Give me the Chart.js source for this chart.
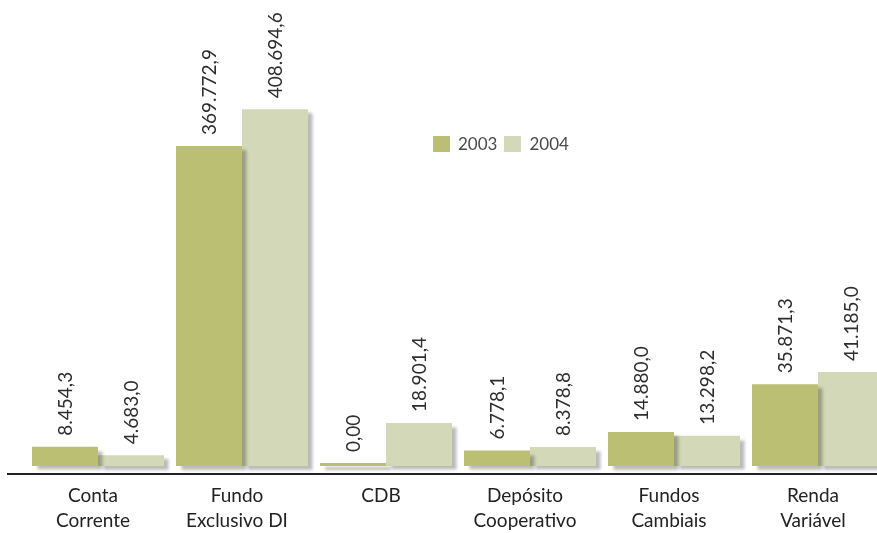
<!DOCTYPE html>
<html>
<head>
<meta charset="utf-8">
<script src="https://cdn.jsdelivr.net/npm/chart.js@4"></script>
<style>
    html, body { margin: 0; padding: 0; background: #fff; overflow: hidden; width: 877px; height: 533px; }
    #wrap { position: relative; width: 900px; height: 533px; overflow: hidden; }
    #legend { position: absolute; left: 433px; top: 133px; font-family: Lato, sans-serif; font-size: 17px; color: #4a4a4a; display: flex; align-items: center; }
    #legend span.box { display: inline-block; width: 17px; height: 16px; margin-right: 8px; }
    #legend span.txt { margin-right: 7px; }
</style>
</head>
<body>
<div id="wrap">
    <canvas id="chart" width="900" height="553"></canvas>
    <div id="legend">
        <span class="box" style="background:#bbbf74"></span><span class="txt">2003</span>
        <span class="box" style="background:#d3d9b8"></span><span class="txt">2004</span>
    </div>
</div>
<script>
const categories = [
    ['Conta', 'Corrente'],
    ['Fundo', 'Exclusivo DI'],
    ['CDB'],
    ['Depósito', 'Cooperativo'],
    ['Fundos', 'Cambiais'],
    ['Renda', 'Variável']
];
const values2003 = [8454.3, 369772.9, 0, 6778.1, 14880.0, 35871.3];
const values2004 = [4683.0, 408694.6, 18901.4, 8378.8, 13298.2, 41185.0];

// the original axis is not linear: small values are stretched, the two big ones squeezed
class BrokenScale extends Chart.LinearScale {
    getPixelForValue(value) {
        const pts = this.options.breaks;
        let frac = pts[pts.length - 1][1];
        for (let i = 1; i < pts.length; i++) {
            if (value <= pts[i][0]) {
                const a = pts[i - 1], b = pts[i];
                frac = a[1] + (value - a[0]) / (b[0] - a[0]) * (b[1] - a[1]);
                break;
            }
        }
        return this.getPixelForDecimal(frac);
    }
}
BrokenScale.id = 'broken';
BrokenScale.defaults = Chart.LinearScale.defaults;
Chart.register(BrokenScale);

function fmt(v) {
    if (v === 0) return '0,00';
    const parts = v.toFixed(1).split('.');
    return parts[0].replace(/\B(?=(\d{3})+(?!\d))/g, '.') + ',' + parts[1];
}

const shadowPlugin = {
    id: 'barShadow',
    beforeDatasetsDraw(chart) {
        const c = chart.ctx;
        c.save();
        c.shadowColor = 'rgba(0,0,0,0.27)';
        c.shadowOffsetX = 5;
        c.shadowOffsetY = 4;
        c.shadowBlur = 3;
    },
    afterDatasetsDraw(chart) {
        const c = chart.ctx;
        c.restore();
        c.save();
        c.font = '19px Lato, sans-serif';
        c.fillStyle = '#2e2e2e';
        c.textAlign = 'left';
        c.textBaseline = 'middle';
        chart.data.datasets.forEach((ds, i) => {
            chart.getDatasetMeta(i).data.forEach((bar, j) => {
                c.save();
                c.translate(bar.x, bar.y - 11);
                c.rotate(-Math.PI / 2);
                c.fillText(fmt(ds.data[j]), 0, 1);
                c.restore();
            });
        });
        // base line
        const y = chart.chartArea.bottom + 7;
        c.fillStyle = '#222';
        c.fillRect(7, y, chart.width - 7, 2);
        c.restore();
    }
};

new Chart(document.getElementById('chart'), {
    type: 'bar',
    data: {
        labels: categories,
        datasets: [
            {
                label: '2003',
                data: values2003,
                backgroundColor: '#bbbf74',
                minBarLength: 3,
                clip: false
            },
            {
                label: '2004',
                data: values2004,
                backgroundColor: '#d3d9b8',
                clip: false
            }
        ]
    },
    options: {
        responsive: false,
        animation: false,
        categoryPercentage: 0.9167,
        barPercentage: 1,
        layout: { padding: { left: 26, right: 10, top: 10, bottom: 3 } },
        scales: {
            x: {
                grid: { display: false, drawTicks: false },
                border: { display: false },
                ticks: {
                    color: '#222',
                    padding: 17,
                    labelOffset: -5,
                    maxRotation: 0,
                    font: { family: 'Lato, sans-serif', size: 19, lineHeight: '25px' }
                }
            },
            y: {
                type: 'broken',
                display: false,
                min: 0,
                breaks: [[0, 0], [45000, 0.225], [370000, 0.702], [410000, 0.785], [500000, 1]]
            }
        },
        plugins: {
            legend: { display: false },
            tooltip: { enabled: false }
        }
    },
    plugins: [shadowPlugin]
});
</script>
</body>
</html>
